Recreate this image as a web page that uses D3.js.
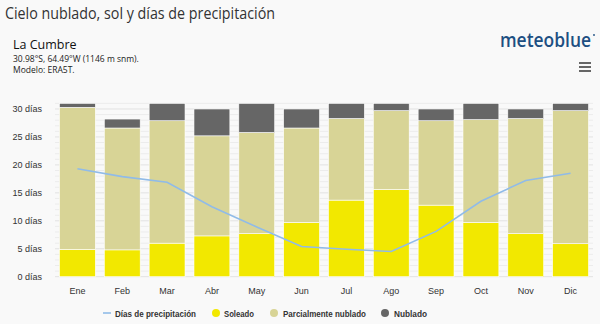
<!DOCTYPE html>
<html>
<head>
<meta charset="utf-8">
<script src="https://cdn.jsdelivr.net/npm/d3@7"></script>
<style>
  body { margin: 0; background: #f9f9f9; }
  svg { display: block; }
</style>
</head>
<body>
<script>
var meses = ['Ene','Feb','Mar','Abr','May','Jun','Jul','Ago','Sep','Oct','Nov','Dic'];
var soleado = [4.9, 4.8, 6.0, 7.3, 7.7, 9.7, 13.7, 15.6, 12.8, 9.7, 7.7, 5.9];
var parcial = [25.4, 21.8, 21.9, 17.9, 18.1, 16.9, 14.6, 14.1, 15.1, 18.4, 20.6, 23.8];
var nublado = [0.7, 1.6, 3.1, 4.8, 5.2, 3.4, 2.7, 1.3, 2.1, 2.9, 1.7, 1.3];
var precip = [19.3, 17.9, 16.9, 12.5, 8.9, 5.4, 4.9, 4.5, 8.1, 13.5, 17.2, 18.5];
var ticksY = [0, 5, 10, 15, 20, 25, 30];

var colores = { soleado: '#f2e800', parcial: '#d8d496', nublado: '#666666', precip: '#90bbe8' };

var W = 600, H = 324;
var svg = d3.select('body').append('svg').attr('width', W).attr('height', H);

// cabecera
svg.append('text').attr('x', 5).attr('y', 19)
  .attr('textLength', 270).attr('lengthAdjust', 'spacingAndGlyphs')
  .style('font-family', 'Open Sans').style('font-size', '15.5px').style('fill', '#333')
  .text('Cielo nublado, sol y días de precipitación');
svg.append('text').attr('x', 13).attr('y', 49)
  .style('font-family', 'Open Sans').style('font-size', '12.5px').style('fill', '#111')
  .text('La Cumbre');
svg.append('text').attr('x', 13).attr('y', 62)
  .style('font-family', 'Open Sans').style('font-size', '8.5px').style('fill', '#222')
  .text('30.98°S, 64.49°W (1146 m snm).');
svg.append('text').attr('x', 13).attr('y', 73)
  .style('font-family', 'Open Sans').style('font-size', '8.5px').style('fill', '#222')
  .text('Modelo: ERA5T.');

// logo
svg.append('text').attr('x', 591).attr('y', 47).attr('text-anchor', 'end')
  .attr('textLength', 91).attr('lengthAdjust', 'spacingAndGlyphs')
  .style('font-family', 'Open Sans').style('font-size', '19px').style('font-weight', '600')
  .style('fill', '#1d4f82')
  .text('meteoblue');
svg.append('circle').attr('cx', 594).attr('cy', 35).attr('r', 0.9).attr('fill', '#1d4f82');

// menú
[63, 67, 71].forEach(function(y){
  svg.append('rect').attr('x', 579).attr('y', y - 1).attr('width', 12).attr('height', 2).attr('fill', '#666');
});

var x = d3.scaleBand().domain(meses).range([55, 593]).paddingInner(0.2).paddingOuter(0.1);
var y = d3.scaleLinear().domain([0, 31]).range([276.7, 103.4]);

// líneas de cuadrícula por día
svg.append('g').selectAll('line')
  .data(d3.range(0, 32))
  .enter().append('line')
  .attr('x1', 55).attr('x2', 593)
  .attr('y1', function(d){ return y(d); }).attr('y2', function(d){ return y(d); })
  .attr('stroke', function(d){ return d % 5 == 0 ? '#e2e2e2' : '#ececec'; })
  .attr('stroke-width', 1);

// eje y
var ejeY = svg.append('g').attr('transform', 'translate(45,0)')
  .call(d3.axisLeft(y).tickValues(ticksY).tickSize(0).tickFormat(function(d){ return d + ' días'; }));
ejeY.select('.domain').remove();
ejeY.selectAll('text').style('font-family', 'Liberation Sans').style('font-size', '9px').style('fill', '#333');

// eje x
var ejeX = svg.append('g').attr('transform', 'translate(0,283)')
  .call(d3.axisBottom(x).tickSize(0));
ejeX.select('.domain').remove();
ejeX.selectAll('text').attr('dy', '0.9em').style('font-family', 'Liberation Sans').style('font-size', '9px').style('fill', '#333');

// barras apiladas
var filas = meses.map(function(m, i){
  return { mes: m, soleado: soleado[i], parcial: parcial[i], nublado: nublado[i] };
});
var series = d3.stack().keys(['soleado', 'parcial', 'nublado'])(filas);

svg.append('g').selectAll('g')
  .data(series)
  .enter().append('g')
  .attr('fill', function(d){ return colores[d.key]; })
  .selectAll('rect')
  .data(function(d){ return d; })
  .enter().append('rect')
  .attr('x', function(d){ return x(d.data.mes); })
  .attr('width', x.bandwidth())
  .attr('y', function(d){ return y(d[1]); })
  .attr('height', function(d){ return y(d[0]) - y(d[1]); })
  .attr('stroke', '#ffffff').attr('stroke-width', 0.6);

// línea de días de precipitación
var linea = d3.line()
  .x(function(d, i){ return x(meses[i]) + x.bandwidth() / 2; })
  .y(function(d){ return y(d); });
svg.append('path').datum(precip)
  .attr('d', linea).attr('fill', 'none')
  .attr('stroke', colores.precip).attr('stroke-width', 1.6);

// leyenda
var ley = svg.append('g').style('font-family', 'Liberation Sans').style('font-size', '9px').style('font-weight', 'bold');
ley.append('line').attr('x1', 103).attr('x2', 111).attr('y1', 313).attr('y2', 313)
  .attr('stroke', colores.precip).attr('stroke-width', 1.6);
var items = [
  { tx: 115, w: 81, c: colores.precip, t: 'Días de precipitación' },
  { cx: 216, tx: 224, w: 30, c: colores.soleado, t: 'Soleado' },
  { cx: 274, tx: 283, w: 83, c: colores.parcial, t: 'Parcialmente nublado' },
  { cx: 385, tx: 394, w: 33, c: colores.nublado, t: 'Nublado' }
];
items.forEach(function(it){
  if (it.cx) ley.append('circle').attr('cx', it.cx).attr('cy', 313).attr('r', 4).attr('fill', it.c);
  ley.append('text').attr('x', it.tx).attr('y', 316.5)
    .attr('textLength', it.w).attr('lengthAdjust', 'spacingAndGlyphs')
    .style('fill', '#333').text(it.t);
});
</script>
</body>
</html>
